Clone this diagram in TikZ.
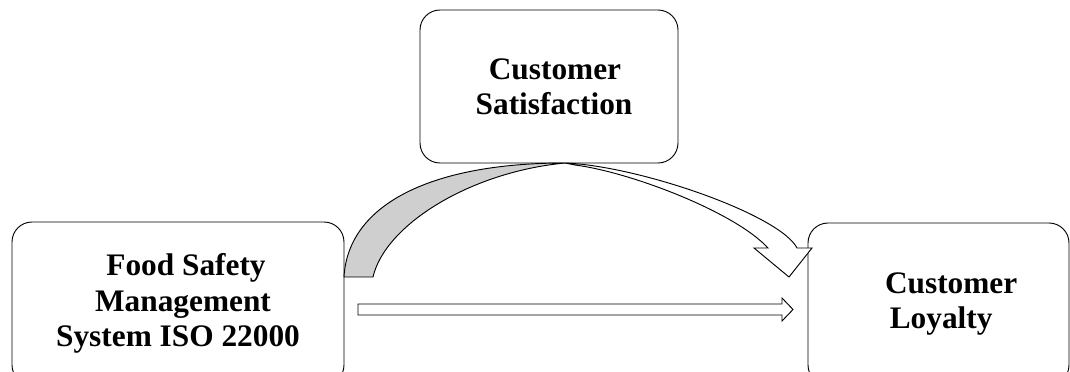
\documentclass[tikz,border=0pt]{standalone}
\usepackage{fontspec}
\setmainfont{Liberation Serif}
\begin{document}
\begin{tikzpicture}[x=0.75pt,y=-0.75pt,
  box/.style={draw,line width=0.7pt,rounded corners=15pt,align=center,inner sep=0pt,
    font=\fontsize{23.5}{26.5}\selectfont\bfseries},
  shapeline/.style={draw,line width=0.7pt,line join=miter}]
\useasboundingbox (0,0) rectangle (1070,371);
\node[box,minimum width=249pt,minimum height=122.25pt] (fs) at (178,303.5)
  {\hspace*{12pt}Food Safety\\\hspace*{7.5pt}Management\\System ISO 22000};
\node[box,minimum width=193.5pt,minimum height=114.75pt] (cs) at (549,86.5)
  {\hspace*{9pt}Customer\\\hspace*{7.5pt}Satisfaction};
\node[box,minimum width=195.75pt,minimum height=121.5pt] (cl) at (938.5,304)
  {\hspace*{19pt}Customer\\\hspace*{4pt}Loyalty};
% curved arrow: white front part
\path[shapeline,fill=white] (565,163) .. controls (640,166) and (780,215) .. (797,248)
  -- (812,248) -- (789,277) -- (754,248) -- (768,248)
  .. controls (735,212) and (630,172) .. (575,165) -- cycle;
% curved arrow: grey back part
\path[shapeline,fill=black!19] (344,277) .. controls (348,205) and (430,163) .. (565,163)
  .. controls (470,172) and (385,225) .. (373,277) -- cycle;
% straight block arrow
\path[shapeline,fill=white] (358,304) -- (782,304) -- (782,298) -- (793,309.5)
  -- (782,321) -- (782,315) -- (358,315) -- cycle;
\end{tikzpicture}
\end{document}
